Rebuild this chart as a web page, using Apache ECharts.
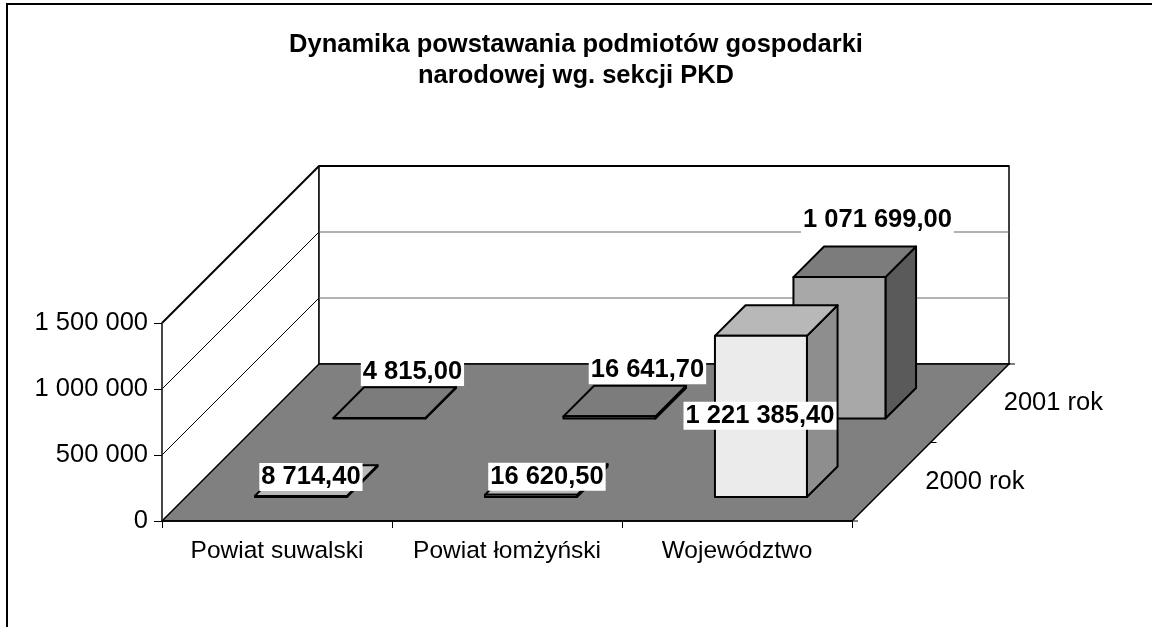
<!DOCTYPE html>
<html>
<head>
<meta charset="utf-8">
<script src="https://cdn.jsdelivr.net/npm/echarts@6/dist/echarts.min.js"></script>
<style>
html, body { margin: 0; padding: 0; background: #fff; }
#chart { width: 1152px; height: 627px; }
</style>
</head>
<body>
<div id="chart"></div>
<script>
// dane wykresu
var categories = ['Powiat suwalski', 'Powiat łomżyński', 'Województwo'];
var seriesNames = ['2000 rok', '2001 rok'];
var values2000 = [8714.40, 16620.50, 1221385.40];
var values2001 = [4815.00, 16641.70, 1071699.00];
var valueTicks = [0, 500000, 1000000, 1500000];

// przesuniecia etykiet (jak w oryginale z Excela)
var labelShift2000 = [[10, -19], [16, -18], [-1, 80]];
var labelShift2001 = [[33, -46], [38, -46], [38, -57]];

var DEPTH = 157; // glebokosc rzutu 3d w px
var FS = 25.5;   // rozmiar czcionki

function fmtNum(v, dec) {
    var s = v.toFixed(dec).split('.');
    var out = s[0].replace(/\B(?=(\d{3})+(?!\d))/g, ' ');
    return dec ? out + ',' + s[1] : out;
}

var chart = echarts.init(document.getElementById('chart'));

// sciany, podloga, linie siatki, os glebokosci
function renderFrame(params, api) {
    var cs = params.coordSys;
    var xl = cs.x, xr = cs.x + cs.width;
    var y0 = api.coord([0, 0])[1];
    var yMax = api.coord([0, valueTicks[valueTicks.length - 1]])[1];
    var D = DEPTH;
    var ch = [];
    // lewa sciana
    ch.push({type: 'polygon', shape: {points: [[xl, y0], [xl, yMax], [xl + D, yMax - D], [xl + D, y0 - D]]},
        style: {fill: '#fff', stroke: '#000', lineWidth: 1}});
    // tylna sciana
    ch.push({type: 'rect', shape: {x: xl + D, y: yMax - D, width: cs.width, height: y0 - yMax},
        style: {fill: '#fff', stroke: '#000', lineWidth: 1.5}});
    // linie siatki
    valueTicks.forEach(function (t, i) {
        if (i === 0) return;
        var y = api.coord([0, t])[1];
        var last = i === valueTicks.length - 1;
        ch.push({type: 'line', shape: {x1: xl, y1: y, x2: xl + D, y2: y - D},
            style: {stroke: '#000', lineWidth: last ? 2 : 1}});
        ch.push({type: 'line', shape: {x1: xl + D, y1: y - D, x2: xr + D, y2: y - D},
            style: {stroke: last ? '#000' : '#666', lineWidth: last ? 2 : 1.2}});
    });
    // podloga
    ch.push({type: 'polygon', shape: {points: [[xl, y0], [xr, y0], [xr + D, y0 - D], [xl + D, y0 - D]]},
        style: {fill: '#808080', stroke: '#000', lineWidth: 1.5}});
    // os glebokosci - kreski i opisy serii
    var n = seriesNames.length;
    for (var k = 0; k <= n; k++) {
        var px = xr + D * k / n, py = y0 - D * k / n;
        ch.push({type: 'line', shape: {x1: px, y1: py, x2: px + 6, y2: py}, style: {stroke: '#000', lineWidth: 1}});
    }
    seriesNames.forEach(function (name, k) {
        var d = D * (k + 0.5) / n;
        ch.push({type: 'text', style: {text: name, x: xr + d + 34, y: y0 - d, fill: '#000',
            fontSize: FS, fontFamily: 'Arial', align: 'left', verticalAlign: 'middle'}});
    });
    return {type: 'group', children: ch};
}

function barRenderer(row, colors, shifts) {
    return function (params, api) {
        var cs = params.coordSys;
        var idx = api.value(0);
        var val = api.value(1);
        var base = api.coord([idx, 0]);
        var top = api.coord([idx, val]);
        var bw = cs.width / categories.length * 0.4;
        var slot = DEPTH / seriesNames.length;
        var bd = slot * 0.39;
        var d0 = row * slot + (slot - bd) / 2;
        var x0 = base[0] - bw / 2 + d0, x1 = x0 + bw;
        var yb = base[1] - d0, yt = top[1] - d0;
        var edge = {stroke: '#000', lineWidth: 2, lineJoin: 'round'};
        var ch = [
            {type: 'polygon', shape: {points: [[x1, yt], [x1 + bd, yt - bd], [x1 + bd, yb - bd], [x1, yb]]},
                style: Object.assign({fill: colors[2]}, edge)},
            {type: 'polygon', shape: {points: [[x0, yt], [x1, yt], [x1 + bd, yt - bd], [x0 + bd, yt - bd]]},
                style: Object.assign({fill: colors[1]}, edge)},
            {type: 'polygon', shape: {points: [[x0, yt], [x1, yt], [x1, yb], [x0, yb]]},
                style: Object.assign({fill: colors[0]}, edge)},
            {type: 'text', z2: 20, style: {text: fmtNum(val, 2),
                x: x0 + bw / 2 + shifts[idx][0], y: yt + shifts[idx][1],
                fill: '#000', fontSize: FS, fontWeight: 'bold', fontFamily: 'Arial',
                backgroundColor: '#fff', padding: [2, 2, 0, 2], align: 'center', verticalAlign: 'middle'}}
        ];
        return {type: 'group', children: ch};
    };
}

var option = {
    animation: false,
    backgroundColor: '#fff',
    title: {
        text: 'Dynamika powstawania podmiotów gospodarki\nnarodowej wg. sekcji PKD',
        left: 'center',
        top: 24,
        textStyle: {fontSize: FS, fontWeight: 'bold', fontFamily: 'Arial', color: '#000', lineHeight: 31}
    },
    graphic: [{
        type: 'rect', shape: {x: 7, y: 4, width: 1200, height: 700},
        style: {fill: 'none', stroke: '#000', lineWidth: 2}, z: 100
    }],
    grid: {left: 162, top: 323, width: 690, height: 198},
    xAxis: {
        type: 'category',
        data: categories,
        axisLine: {show: true, lineStyle: {color: '#000', width: 1.5}},
        axisTick: {show: true, length: 7, lineStyle: {color: '#000'}},
        axisLabel: {fontSize: 24.5, fontFamily: 'Arial', color: '#000', margin: 18,
            interval: 0, hideOverlap: false},
        z: 10
    },
    yAxis: {
        type: 'value',
        min: 0,
        max: 1500000,
        interval: 500000,
        axisLine: {show: true, lineStyle: {color: '#333', width: 1.5}},
        axisTick: {show: true, length: 8, lineStyle: {color: '#000'}},
        axisLabel: {fontSize: FS, fontFamily: 'Arial', color: '#000', margin: 14,
            formatter: function (v) { return fmtNum(v, 0); }},
        splitLine: {show: false},
        z: 10
    },
    series: [
        {type: 'custom', name: 'frame', z: 1, silent: true, clip: false,
            renderItem: renderFrame, data: [[0, 0]]},
        {type: 'custom', name: seriesNames[1], z: 2, clip: false,
            renderItem: barRenderer(1, ['#a8a8a8', '#7c7c7c', '#5a5a5a'], labelShift2001),
            data: values2001.map(function (v, i) { return [i, v]; })},
        {type: 'custom', name: seriesNames[0], z: 3, clip: false,
            renderItem: barRenderer(0, ['#ebebeb', '#b8b8b8', '#8e8e8e'], labelShift2000),
            data: values2000.map(function (v, i) { return [i, v]; })}
    ]
};
chart.setOption(option);
</script>
</body>
</html>
